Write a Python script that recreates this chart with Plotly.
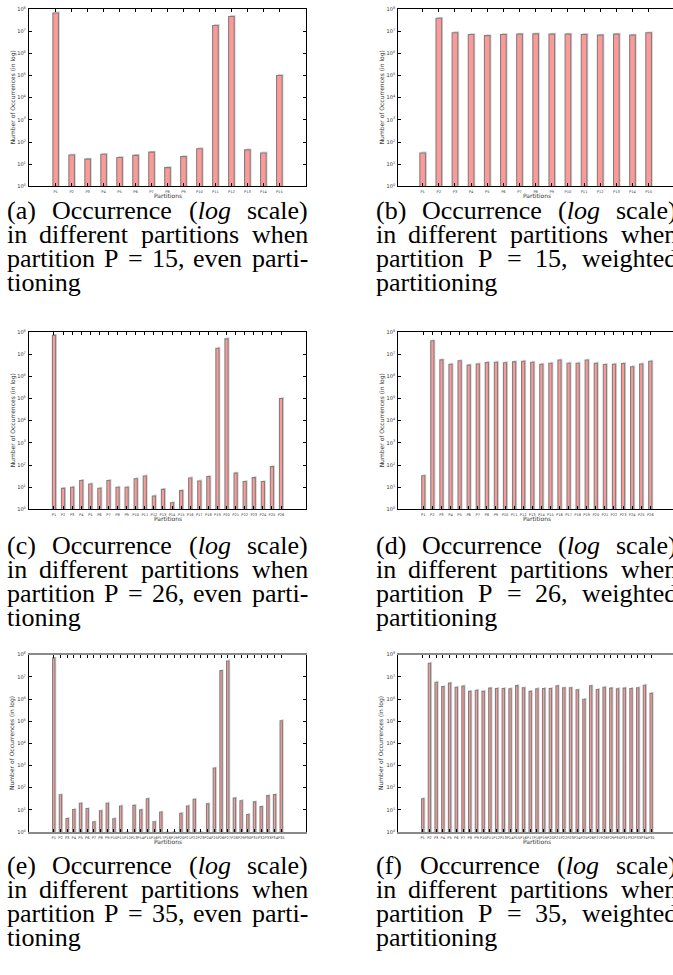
import plotly.graph_objects as go

W, H = 673, 975

# ---------------- data ----------------
cats15 = [f"P{i}" for i in range(1, 16)]
cats26 = [f"P{i}" for i in range(1, 27)]
cats35 = [f"P{i}" for i in range(1, 36)]

vals_a = [6.6e7, 26, 17, 28, 20, 25, 35, 7, 22, 50, 1.8e7, 4.6e7, 44, 32, 1.0e5]
vals_b = [32, 3.8e7, 8.5e6, 7.0e6, 6.3e6, 7.1e6, 7.3e6, 7.5e6, 7.3e6, 7.3e6,
          7.1e6, 6.6e6, 7.3e6, 6.6e6, 8.4e6]
vals_c = [7.0e7, 8.8, 10, 20, 14, 9, 20, 10, 10, 24, 32, 4, 8, 2, 7, 26, 19, 30,
          1.85e7, 4.9e7, 43, 18, 27, 18, 85, 1.0e5]
vals_d = [33, 4.0e7, 5.5e6, 3.5e6, 5.0e6, 3.2e6, 3.6e6, 4.2e6, 4.3e6, 4.1e6,
          4.5e6, 4.8e6, 4.3e6, 3.5e6, 3.9e6, 5.4e6, 3.9e6, 3.9e6, 5.4e6, 3.9e6,
          3.4e6, 3.5e6, 3.8e6, 2.7e6, 3.6e6, 4.8e6]
vals_e = [7.0e7, 48, 4.1, 10.4, 20, 11.5, 2.9, 9.1, 20, 4, 15, 1, 16, 10, 32,
          2.9, 8, 1, 1, 7, 15, 30, 1, 18.7, 780, 1.9e7, 5.2e7, 34, 26, 6.2, 23,
          14, 44, 49, 1.05e5]
vals_f = [32, 4.1e7, 5.7e6, 3.6e6, 5.2e6, 3.4e6, 3.8e6, 2.2e6, 2.5e6, 2.2e6,
          3.1e6, 3.0e6, 3.0e6, 2.9e6, 4.0e6, 3.2e6, 2.2e6, 2.9e6, 3.0e6, 3.0e6,
          3.9e6, 3.2e6, 3.2e6, 2.6e6, 9.8e5, 3.9e6, 2.7e6, 3.4e6, 3.1e6, 2.9e6,
          3.1e6, 3.0e6, 3.2e6, 4.2e6, 1.8e6]

ytick_vals = [1, 10, 100, 1e3, 1e4, 1e5, 1e6, 1e7, 1e8]
ytick_text = ["10<sup>%d</sup>" % k for k in range(9)]

x_title = "Partitions"
y_title = "Number of Occurrences (in log)"

panels = [
    dict(letter="a", P=15, kind="even", col=0, row=0, cats=cats15, vals=vals_a, xr=[-1.67, 15.67]),
    dict(letter="b", P=15, kind="weighted", col=1, row=0, cats=cats15, vals=vals_b, xr=[-1.51, 15.51]),
    dict(letter="c", P=26, kind="even", col=0, row=1, cats=cats26, vals=vals_c, xr=[-2.75, 27.75]),
    dict(letter="d", P=26, kind="weighted", col=1, row=1, cats=cats26, vals=vals_d, xr=[-2.75, 27.5]),
    dict(letter="e", P=35, kind="even", col=0, row=2, cats=cats35, vals=vals_e, xr=[-3.7, 37.7]),
    dict(letter="f", P=35, kind="weighted", col=1, row=2, cats=cats35, vals=vals_f, xr=[-3.63, 37.25]),
]

# ---------------- layout constants (pixels) ----------------
col_x = [(29, 306), (398.3, 673)]
row_top = [6, 331, 655.7]
plot_h = 178.5
ylab_x = [12.7, 381.7]
cap_left = [7, 376]
cap_width = 301
cap_first = [209, 546, 868]
cap_step = 24
CAP_FONT = 26
BAR_W = 0.35
SHADOW_PX = 1.4

# Times / Liberation Serif advance widths (1/1000 em) for justification
TW = {" ": 250, "(": 333, ")": 333, "a": 444, "b": 500, "c": 444, "d": 500, "e": 444,
      "f": 333, "g": 500, "h": 500, "i": 278, "l": 278, "n": 500, "o": 500, "p": 500,
      "r": 333, "s": 389, "t": 278, "u": 500, "w": 722, "O": 722, "P": 556, "=": 564,
      ",": 250, "-": 333, "0": 500, "1": 500, "2": 500, "3": 500, "4": 500, "5": 500,
      "6": 500, "7": 500, "8": 500, "9": 500}


def word_w(w):
    plain = w.replace("<i>", "").replace("</i>", "")
    return sum(TW.get(ch, 500) for ch in plain) / 1000.0 * CAP_FONT


fig = go.Figure()
annotations = []
layout = dict(
    width=W, height=H, margin=dict(l=0, r=0, t=0, b=0),
    paper_bgcolor="white", plot_bgcolor="white",
    showlegend=False, barmode="overlay",
)


def px_x(p):
    return p / W


def px_y(p):
    return 1 - p / H


for i, p in enumerate(panels, start=1):
    x0, x1 = col_x[p["col"]]
    top = row_top[p["row"]]
    bot = top + plot_h
    xa = "x" if i == 1 else f"x{i}"
    ya = "y" if i == 1 else f"y{i}"
    span = p["xr"][1] - p["xr"][0]
    unit_px = (x1 - x0) / span
    dx = SHADOW_PX / unit_px
    dec_px = plot_h / 8.0
    sfac = 10 ** (SHADOW_PX / dec_px)

    fig.add_trace(go.Bar(
        x=p["cats"], y=[v * sfac if v > 1 else v for v in p["vals"]],
        width=BAR_W, offset=-BAR_W / 2 + dx,
        marker=dict(color="#d2d2d2", line=dict(width=0)),
        xaxis=xa, yaxis=ya, hoverinfo="skip",
    ))
    fig.add_trace(go.Bar(
        x=p["cats"], y=p["vals"],
        width=BAR_W, offset=-BAR_W / 2,
        marker=dict(color="#ff9999", line=dict(color="#808080", width=1.1)),
        xaxis=xa, yaxis=ya,
    ))

    bottom_line_color = "#8a8a8a" if p["row"] == 2 else "black"
    bottom_line_w = 2.2 if p["row"] == 2 else 1.3
    key_x = "xaxis" if i == 1 else f"xaxis{i}"
    key_y = "yaxis" if i == 1 else f"yaxis{i}"
    layout[key_x] = dict(
        domain=[px_x(x0), min(1.0, px_x(x1))], anchor=ya, type="category",
        range=p["xr"], showline=True, linecolor=bottom_line_color, linewidth=bottom_line_w,
        mirror="ticks", ticks="inside", ticklen=3, tickwidth=0.8, tickcolor="black",
        showgrid=False, zeroline=False, tickangle=0,
        tickfont=dict(family="DejaVu Sans", size=3.6, color="#333"),
        ticklabelstandoff=1,
    )
    layout[key_y] = dict(
        domain=[px_y(bot), px_y(top)], anchor=xa, type="log", range=[0, 8],
        showline=True, linecolor="black", linewidth=1.3,
        mirror=("ticks" if p["col"] == 0 else False),
        ticks="inside", ticklen=3, tickwidth=0.8, tickcolor="black",
        tickvals=ytick_vals, ticktext=ytick_text,
        showgrid=False, zeroline=False,
        tickfont=dict(family="DejaVu Sans", size=5, color="#333"),
        ticklabelstandoff=1,
    )

    # axis titles
    annotations.append(dict(
        text=x_title, xref="paper", yref="paper",
        x=px_x(x0 + 138.5), y=px_y(top + 187.5),
        xanchor="center", yanchor="middle", showarrow=False,
        font=dict(family="DejaVu Sans", size=6, color="#333"),
    ))
    annotations.append(dict(
        text=y_title, xref="paper", yref="paper", textangle=-90,
        x=px_x(ylab_x[p["col"]]), y=px_y((top + bot) / 2),
        xanchor="center", yanchor="middle", showarrow=False,
        font=dict(family="DejaVu Sans", size=6, color="#333"),
    ))

    # caption (justified lines, last line ragged)
    if p["kind"] == "even":
        lines = [
            ["(%s)" % p["letter"], "Occurrence", "(<i>log</i>", "scale)"],
            ["in", "different", "partitions", "when"],
            ["partition", "P", "=", "%d," % p["P"], "even", "parti-"],
            ["tioning"],
        ]
    else:
        lines = [
            ["(%s)" % p["letter"], "Occurrence", "(<i>log</i>", "scale)"],
            ["in", "different", "partitions", "when"],
            ["partition", "P", "=", "%d," % p["P"], "weighted"],
            ["partitioning"],
        ]
    left = cap_left[p["col"]]
    for li, words in enumerate(lines):
        yy = cap_first[p["row"]] + li * cap_step
        widths = [word_w(w) for w in words]
        last = li == len(lines) - 1
        if last or len(words) == 1:
            gap = TW[" "] / 1000.0 * CAP_FONT
        else:
            gap = (cap_width - sum(widths)) / (len(words) - 1)
        xpos = left
        for w, ww in zip(words, widths):
            annotations.append(dict(
                text=w, xref="paper", yref="paper",
                x=px_x(xpos), y=px_y(yy),
                xanchor="left", yanchor="middle",
                showarrow=False, borderpad=0, borderwidth=0,
                font=dict(family="Liberation Serif", size=CAP_FONT, color="black"),
            ))
            xpos += ww + gap

layout["annotations"] = annotations
fig.update_layout(**layout)
fig.write_html("out.html")
